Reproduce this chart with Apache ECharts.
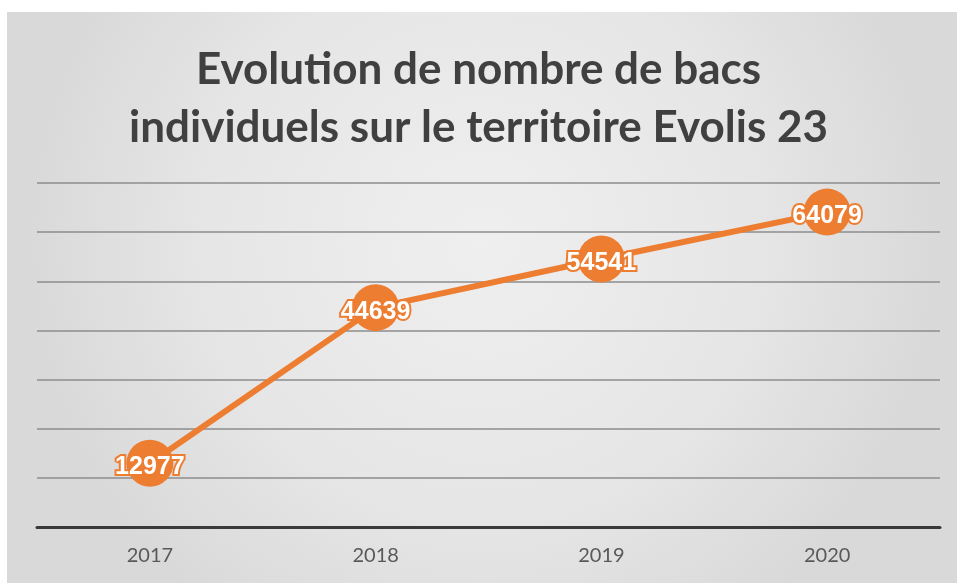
<!DOCTYPE html>
<html>
<head>
<meta charset="utf-8">
<script src="https://cdn.jsdelivr.net/npm/echarts@6/dist/echarts.min.js"></script>
<style>
  html, body { margin: 0; padding: 0; background: #fff; }
  #chart-container { width: 957px; height: 583px; }
</style>
</head>
<body>
<div id="chart-container"></div>
<script>
const years = ['2017', '2018', '2019', '2020'];
const bacs = [12977, 44639, 54541, 64079];
const yTicks = [0, 10000, 20000, 30000, 40000, 50000, 60000, 70000];

const chartDom = document.getElementById('chart-container');
const myChart = echarts.init(chartDom);

const orange = '#ED7D31';

const option = {
    backgroundColor: '#fff',
    graphic: [
        {
            type: 'rect',
            z: -10,
            silent: true,
            shape: { x: 7, y: 12, width: 950, height: 571 },
            style: {
                fill: {
                    type: 'radial',
                    x: 0.5, y: 0.4, r: 0.8,
                    colorStops: [
                        { offset: 0, color: '#efefef' },
                        { offset: 0.6, color: '#e6e6e6' },
                        { offset: 1, color: '#d9d9d9' }
                    ]
                }
            }
        }
    ],
    title: {
        text: 'Evolution de nombre de bacs\nindividuels sur le territoire Evolis 23',
        left: 'center',
        top: 36,
        textStyle: {
            fontFamily: 'Lato',
            fontWeight: 'bold',
            fontSize: 44,
            lineHeight: 58,
            color: '#404040'
        }
    },
    grid: {
        left: 37,
        right: 17,
        top: 183,
        bottom: 56
    },
    xAxis: {
        type: 'category',
        data: years,
        boundaryGap: true,
        axisLine: { lineStyle: { color: '#3a3a3a', width: 3 } },
        axisTick: { show: false },
        axisLabel: {
            margin: 19,
            fontFamily: 'Lato',
            fontSize: 20,
            color: '#595959'
        }
    },
    yAxis: {
        type: 'value',
        min: yTicks[0],
        max: yTicks[yTicks.length - 1],
        interval: yTicks[1] - yTicks[0],
        axisLabel: { show: false },
        axisLine: { show: false },
        axisTick: { show: false },
        splitLine: { lineStyle: { color: '#8c8c8c', width: 1.5 } }
    },
    series: [
        {
            type: 'line',
            data: bacs,
            symbol: 'circle',
            symbolSize: 47,
            lineStyle: { color: orange, width: 6 },
            itemStyle: { color: orange },
            label: {
                show: true,
                position: 'inside',
                offset: [0, 4],
                fontFamily: 'Liberation Sans',
                fontWeight: 'bold',
                fontSize: 25,
                color: '#fff',
                textBorderColor: orange,
                textBorderWidth: 4
            }
        }
    ]
};

myChart.setOption(option);
</script>
</body>
</html>
